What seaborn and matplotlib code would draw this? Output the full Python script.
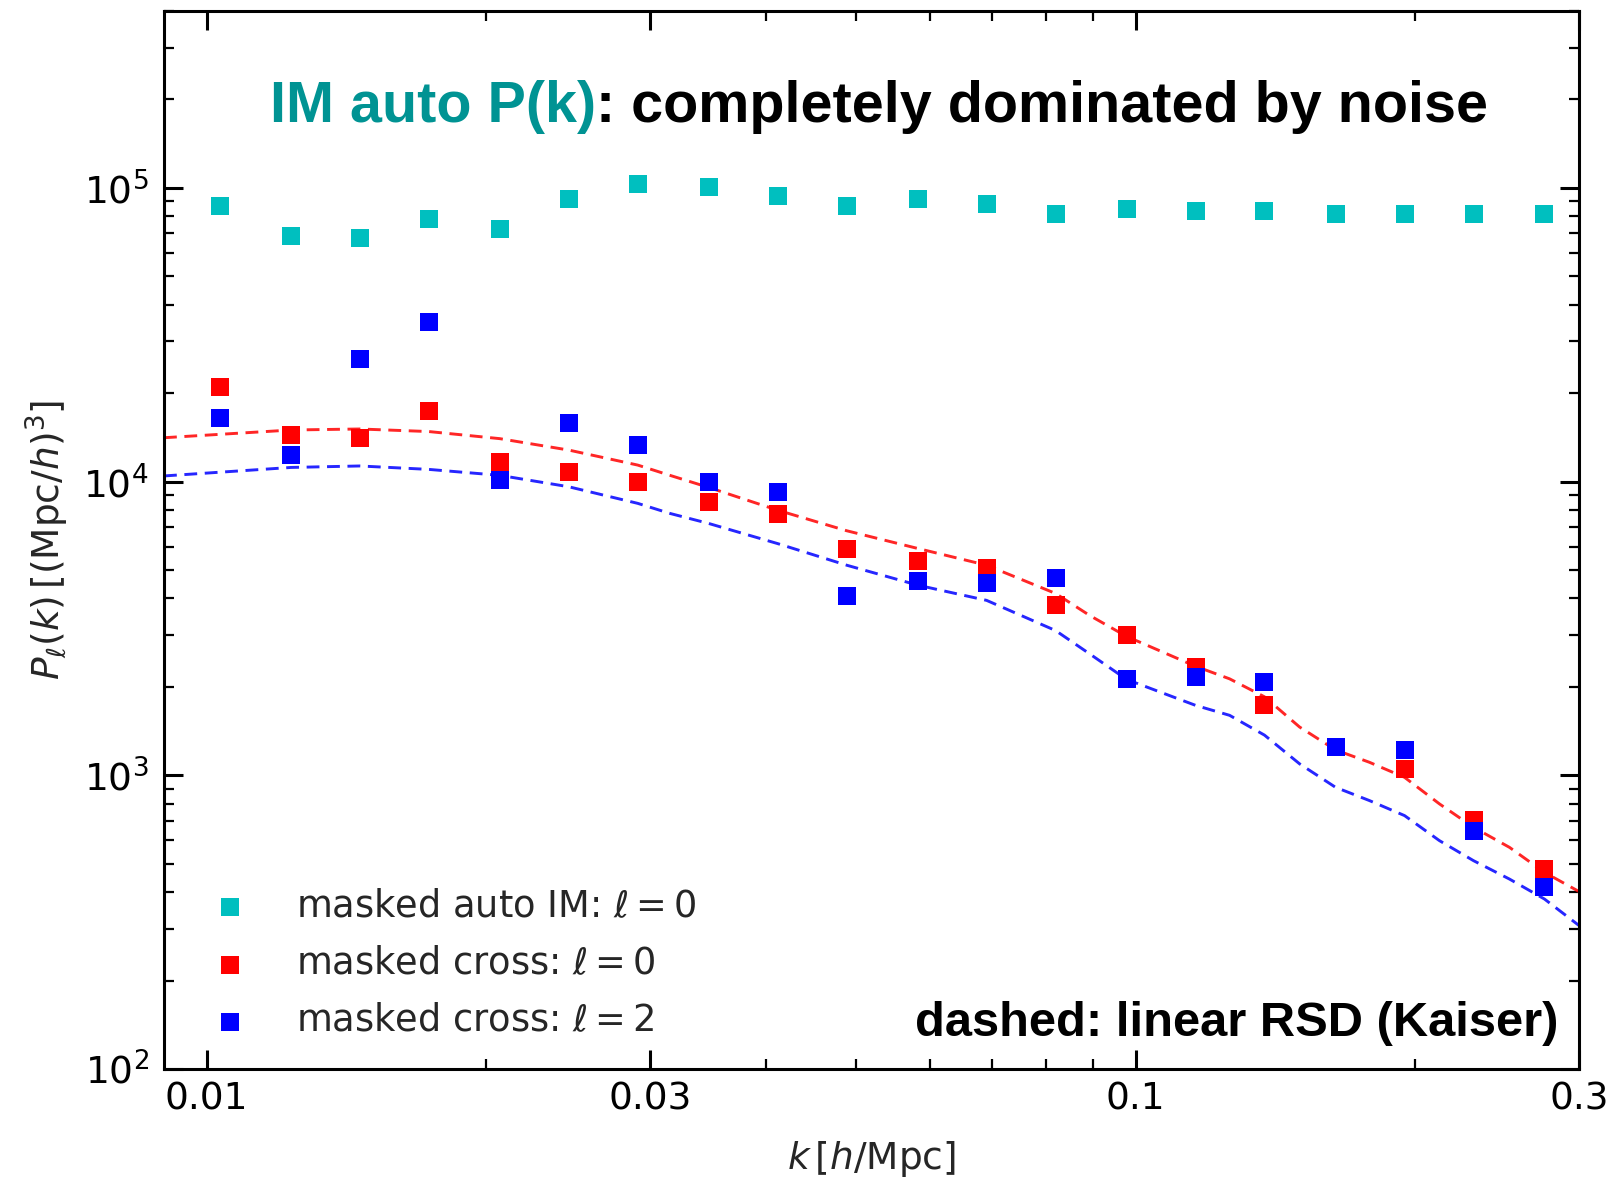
import numpy as np
import pandas as pd
import matplotlib
matplotlib.use("Agg")
import matplotlib.pyplot as plt
from matplotlib.ticker import FixedLocator, FixedFormatter, NullFormatter, LogLocator, LogFormatterMathtext
import seaborn as sns

# ---- measured band powers ----
k_bins = [0.01033, 0.01233, 0.01462, 0.01735, 0.02068, 0.02454, 0.02911, 0.03471,
          0.04117, 0.04887, 0.05826, 0.06911, 0.08199, 0.09777, 0.1160, 0.1376,
          0.1641, 0.1947, 0.2310, 0.2754]
auto_im_l0 = [86600, 68700, 67300, 78600, 72600, 91700, 103000, 101000, 93600, 86600,
              91700, 88400, 81700, 84800, 83200, 83200, 81700, 81700, 81700, 81700]
cross_l0 = [21050, 14410, 14040, 17400, 11630, 10750, 9940, 8500, 7750, 5890,
            5360, 5060, 3790, 3000, 2340, 1740, 1253, 1051, 704, 480]
cross_l2 = [16430, 12310, 26110, 34900, 10120, 15790, 13320, 9940, 9230, 4080,
            4590, 4500, 4680, 2120, 2160, 2080, 1253, 1223, 646, 417]

# ---- linear Kaiser model ----
k_model = [0.009, 0.01233, 0.01462, 0.01735, 0.02068, 0.02454, 0.02911, 0.03153,
           0.03471, 0.04117, 0.04887, 0.05826, 0.06911, 0.08199, 0.08923, 0.09777,
           0.1160, 0.1262, 0.1376, 0.1501, 0.1641, 0.1785, 0.1947, 0.2123, 0.2310,
           0.2526, 0.2754, 0.3]
kaiser_l0 = [14100, 14980, 15100, 14800, 14000, 12800, 11380, 10500, 9550, 7990,
             6800, 5920, 5190, 4160, 3500, 2970, 2350, 2130, 1850, 1460, 1220,
             1107, 984, 799, 665, 568, 467, 402]
kaiser_l2 = [10450, 11170, 11300, 11000, 10500, 9600, 8430, 7790, 7200, 6150,
             5190, 4440, 3940, 3110, 2590, 2120, 1730, 1600, 1370, 1094, 910,
             820, 729, 599, 512, 443, 379, 308]

x_major = [0.01, 0.03, 0.1, 0.3]
x_major_labels = ["0.01", "0.03", "0.1", "0.3"]
x_minor = [0.02, 0.04, 0.05, 0.06, 0.07, 0.08, 0.09, 0.2]

sns.set_style("white")
plt.rcParams["font.family"] = ["DejaVu Sans"]
plt.rcParams["mathtext.fontset"] = "dejavusans"

fig = plt.figure(figsize=(16.14, 11.77), dpi=100)
ax = fig.add_axes([164 / 1614, 1 - 1069 / 1177, 1415 / 1614, 1058 / 1177])

pts = pd.DataFrame({"k": k_bins, "auto": auto_im_l0, "c0": cross_l0, "c2": cross_l2})
mod = pd.DataFrame({"k": k_model, "m0": kaiser_l0, "m2": kaiser_l2})

dash = (0, (4.4, 2.6))
sns.lineplot(data=mod, x="k", y="m0", ax=ax, color="r", lw=2.1,
             estimator=None, legend=False)
sns.lineplot(data=mod, x="k", y="m2", ax=ax, color="b", lw=2.1,
             estimator=None, legend=False)
for ln in ax.get_lines():
    ln.set_linestyle(dash)
    ln.set_alpha(0.85)

msize = 150
sns.scatterplot(data=pts, x="k", y="auto", ax=ax, marker="s", s=msize, color="c",
                linewidth=0, label=r"masked auto IM: $\ell=0$", zorder=3)
sns.scatterplot(data=pts, x="k", y="c0", ax=ax, marker="s", s=msize, color="r",
                linewidth=0, label=r"masked cross: $\ell=0$", zorder=4)
sns.scatterplot(data=pts, x="k", y="c2", ax=ax, marker="s", s=msize, color="b",
                linewidth=0, label=r"masked cross: $\ell=2$", zorder=5)

ax.set_xscale("log")
ax.set_yscale("log")
ax.set_xlim(0.009, 0.3)
ax.set_ylim(100, 4e5)

ax.xaxis.set_major_locator(FixedLocator(x_major))
ax.xaxis.set_major_formatter(FixedFormatter(x_major_labels))
ax.xaxis.set_minor_locator(FixedLocator(x_minor))
ax.xaxis.set_minor_formatter(NullFormatter())
ax.yaxis.set_major_locator(LogLocator(base=10, numticks=10))
ax.yaxis.set_major_formatter(LogFormatterMathtext())
ax.yaxis.set_minor_locator(LogLocator(base=10, subs=np.arange(2, 10), numticks=20))
ax.yaxis.set_minor_formatter(NullFormatter())

for side in ["left", "right", "top", "bottom"]:
    ax.spines[side].set_visible(True)
    ax.spines[side].set_color("black")
    ax.spines[side].set_linewidth(2.2)

ax.tick_params(which="both", direction="in", top=True, right=True, left=True,
               bottom=True, colors="black")
ax.tick_params(which="major", length=14, width=2.2, labelsize=27)
ax.tick_params(which="minor", length=7.5, width=1.6)
ax.tick_params(axis="x", which="major", pad=9)
ax.tick_params(axis="y", which="major", pad=11)

ax.set_xlabel(r"$k\,[h/{\rm Mpc}]$", fontsize=27)
ax.set_ylabel(r"$P_\ell(k)\,[({\rm Mpc}/h)^3]$", fontsize=27)
ax.xaxis.set_label_coords(0.5, -0.066)
ax.yaxis.set_label_coords(-0.066, 0.5)

leg = ax.legend(loc="lower left", frameon=False, fontsize=26.5, labelspacing=0.55,
                handletextpad=0.8, borderaxespad=0.4, scatterpoints=1)

bold = dict(family=["Liberation Sans", "DejaVu Sans"], weight="bold")
t1 = fig.text(270 / 1614, 1 - 122 / 1177, "IM auto P(k)", color="#009393",
              fontsize=41.4, va="baseline", ha="left", **bold)
ax.annotate(": completely dominated by noise", xy=(1, 0), xycoords=t1,
            va="bottom", ha="left", color="black", fontsize=41.4, **bold)
fig.text(1558 / 1614, 1 - 1036 / 1177, "dashed: linear RSD (Kaiser)", color="black",
         fontsize=35.2, va="baseline", ha="right", **bold)

fig.savefig("out.png", dpi=100)
